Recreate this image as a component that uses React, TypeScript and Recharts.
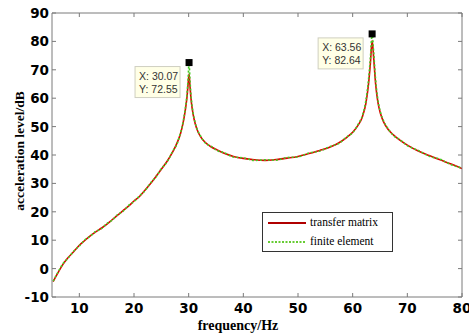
import React from "react";
import {
  LineChart,
  Line,
  XAxis,
  YAxis,
  Legend,
  ReferenceDot,
} from "recharts";

// frequency (Hz)
const freq = [
  5.2, 6, 7, 8, 9, 10, 11, 12, 13, 14, 15, 16, 17, 18, 19, 20, 21, 22, 23, 24,
  25, 26, 27, 28, 28.5, 29, 29.4, 29.7, 29.9, 30.07, 30.25, 30.5, 30.8, 31.2,
  31.7, 32.2, 33, 34, 35.2, 36.5, 38.2, 40, 42, 44, 46, 48, 50, 52, 54, 56,
  57.5, 59, 60, 61, 61.8, 62.4, 62.9, 63.25, 63.56, 63.85, 64.2, 64.6, 65.1,
  65.7, 66.5, 67.5, 68.5, 70, 72, 74, 76, 78, 80,
];

// transfer matrix (dB)
const transferMatrix = [
  -4.6, -1.8, 1.5, 4, 6, 8.2, 9.9, 11.5, 12.9, 14.2, 15.6, 17.2, 18.8, 20.4,
  22, 23.8, 25.4, 27.6, 29.9, 32.4, 35, 37.6, 40.8, 44.8, 47.5, 51.5, 56, 60.5,
  65, 68.5, 64, 58.5, 54.5, 51, 48.2, 46.4, 44.5, 43, 41.8, 40.6, 39.5, 38.8,
  38.3, 38.1, 38.4, 38.9, 39.5, 40.5, 41.6, 42.9, 44.3, 46.3, 48.0, 50.5, 53.6,
  58, 65, 72.5, 80.3, 74, 65, 58.8, 54.5, 51.5, 49, 47, 45.4, 43.5, 41.4, 39.8,
  38.3, 36.8, 35.2,
];

// finite element (dB)
const finiteElement = [
  -4.4, -1.6, 1.7, 3.8, 6.2, 8.0, 10.1, 11.4, 13.1, 14.0, 15.8, 17.0, 19.0,
  20.2, 22.2, 23.6, 25.6, 27.4, 30.1, 32.2, 35.2, 37.4, 41.0, 44.6, 47.8, 51.8,
  56.6, 61.5, 67, 72.55, 66, 59.5, 55, 51.3, 48.4, 46.6, 44.3, 43.2, 41.6, 40.8,
  39.3, 39.0, 38.1, 38.3, 38.2, 39.1, 39.3, 40.7, 41.4, 43.1, 44.1, 46.5, 47.8,
  50.8, 54, 59, 66.5, 74.5, 82.64, 76, 66.5, 59.6, 55, 51.8, 49.2, 46.8, 45.6,
  43.3, 41.6, 39.6, 38.5, 36.6, 35.4,
];

const xTicks = [10, 20, 30, 40, 50, 60, 70, 80];
const yTicks = [-10, 0, 10, 20, 30, 40, 50, 60, 70, 80, 90];

const peaks = [
  { x: 30.07, y: 72.55 },
  { x: 63.56, y: 82.64 },
];

const data = freq.map((f, i) => ({
  f,
  tm: transferMatrix[i],
  fe: finiteElement[i],
}));

const AXIS = "#7a7a7a";
const SERIF = "'Liberation Serif', 'Times New Roman', serif";
const TICK_FONT = {
  fontFamily: "'DejaVu Sans', sans-serif",
  fontWeight: 700,
  fontSize: 13.5,
  fill: "#000",
};

function BottomTick(p: any) {
  return (
    <g>
      <line x1={p.x} x2={p.x} y1={p.y} y2={p.y - 4} stroke={AXIS} />
      <text x={p.x} y={p.y + 16} textAnchor="middle" {...TICK_FONT}>
        {p.payload.value}
      </text>
    </g>
  );
}

function TopTick(p: any) {
  return <line x1={p.x} x2={p.x} y1={p.y} y2={p.y + 4} stroke={AXIS} />;
}

function LeftTick(p: any) {
  return (
    <g>
      <line x1={p.x} x2={p.x + 4} y1={p.y} y2={p.y} stroke={AXIS} />
      <text x={p.x - 3} y={p.y + 5} textAnchor="end" {...TICK_FONT}>
        {p.payload.value}
      </text>
    </g>
  );
}

function RightTick(p: any) {
  return <line x1={p.x} x2={p.x - 4} y1={p.y} y2={p.y} stroke={AXIS} />;
}

function PeakTip(props: any) {
  const { cx, cy, x, y } = props;
  const bx = cx - 54;
  const by = cy + 4;
  return (
    <g>
      <rect x={cx - 3.5} y={cy - 3.5} width={7} height={7} fill="#000" />
      <rect
        x={bx}
        y={by}
        width={45}
        height={31}
        fill="#ffffe6"
        stroke="#cfcfc0"
      />
      <text
        x={bx + 4}
        y={by + 13}
        fontFamily="'Liberation Sans', Arial, sans-serif"
        fontSize={10.5}
        fill="#333"
      >
        {`X: ${x.toFixed(2)}`}
      </text>
      <text
        x={bx + 4}
        y={by + 26}
        fontFamily="'Liberation Sans', Arial, sans-serif"
        fontSize={10.5}
        fill="#333"
      >
        {`Y: ${y.toFixed(2)}`}
      </text>
    </g>
  );
}

function LegendBox() {
  const row = (color: string, dash: string | undefined, label: string) => (
    <div style={{ display: "flex", alignItems: "center", height: 19 }}>
      <svg width={40} height={6} style={{ marginLeft: 5 }}>
        <line
          x1={0}
          x2={38}
          y1={3}
          y2={3}
          stroke={color}
          strokeWidth={2}
          strokeDasharray={dash}
        />
      </svg>
      <span style={{ marginLeft: 2, fontFamily: SERIF, fontSize: 11.5 }}>
        {label}
      </span>
    </div>
  );
  return (
    <div
      style={{
        width: 129,
        height: 38,
        border: "1px solid #333",
        background: "#fff",
        fontFamily: SERIF,
        color: "#000",
        boxSizing: "content-box",
        lineHeight: "19px",
      }}
    >
      {row("#b00000", undefined, "transfer matrix")}
      {row("#66cc33", "2 1.5", "finite element")}
    </div>
  );
}

function YTitle() {
  const cx = 21;
  const cy = 151;
  return (
    <text
      x={cx}
      y={cy}
      transform={`rotate(-90 ${cx} ${cy})`}
      textAnchor="middle"
      dominantBaseline="middle"
      fontFamily={SERIF}
      fontWeight={700}
      fontSize={13.5}
      fill="#000"
    >
      acceleration level/dB
    </text>
  );
}

function XTitle() {
  return (
    <text
      x={238}
      y={330}
      textAnchor="middle"
      fontFamily={SERIF}
      fontWeight={700}
      fontSize={14}
      fill="#000"
    >
      frequency/Hz
    </text>
  );
}

export default function App() {
  return (
    <div
      style={{
        position: "absolute",
        left: 0,
        top: 0,
        width: 469,
        height: 333,
        background: "#fff",
      }}
    >
      <LineChart
        width={469}
        height={333}
        data={data}
        margin={{ top: 0, right: 0, bottom: 0, left: 0 }}
      >
        <XAxis
          dataKey="f"
          type="number"
          domain={[5, 80]}
          ticks={xTicks}
          allowDataOverflow
          height={36}
          tickSize={0}
          tickMargin={0}
          tickLine={false}
          axisLine={{ stroke: AXIS }}
          tick={BottomTick}
          interval={0}
          label={{ content: XTitle }}
        />
        <XAxis
          xAxisId="top"
          orientation="top"
          dataKey="f"
          type="number"
          domain={[5, 80]}
          ticks={xTicks}
          allowDataOverflow
          height={13}
          tickSize={0}
          tickMargin={0}
          tickLine={false}
          axisLine={{ stroke: AXIS }}
          tick={TopTick}
          interval={0}
        />
        <YAxis
          type="number"
          domain={[-10, 90]}
          ticks={yTicks}
          allowDataOverflow
          width={52}
          tickSize={0}
          tickMargin={0}
          tickLine={false}
          axisLine={{ stroke: AXIS }}
          tick={LeftTick}
          interval={0}
          label={{ content: YTitle }}
        />
        <YAxis
          yAxisId="right"
          orientation="right"
          type="number"
          domain={[-10, 90]}
          ticks={yTicks}
          allowDataOverflow
          width={7}
          tickSize={0}
          tickMargin={0}
          tickLine={false}
          axisLine={{ stroke: AXIS }}
          tick={RightTick}
          interval={0}
        />
        <Line
          dataKey="tm"
          name="transfer matrix"
          stroke="#e00000"
          strokeWidth={1.6}
          dot={false}
          type="monotone"
          isAnimationActive={false}
        />
        <Line
          dataKey="fe"
          name="finite element"
          stroke="#44cc22"
          strokeWidth={1.6}
          strokeDasharray="2 2"
          dot={false}
          type="monotone"
          isAnimationActive={false}
        />
        {peaks.map((p) => (
          <ReferenceDot
            key={p.x}
            x={p.x}
            y={p.y}
            r={4}
            shape={(props: any) => <PeakTip {...props} x={p.x} y={p.y} />}
          />
        ))}
        <Legend
          layout="horizontal"
          verticalAlign="middle"
          align="center"
          content={() => <LegendBox />}
          wrapperStyle={{ left: 262, top: 212, width: 131, height: 40 }}
        />
      </LineChart>
    </div>
  );
}
